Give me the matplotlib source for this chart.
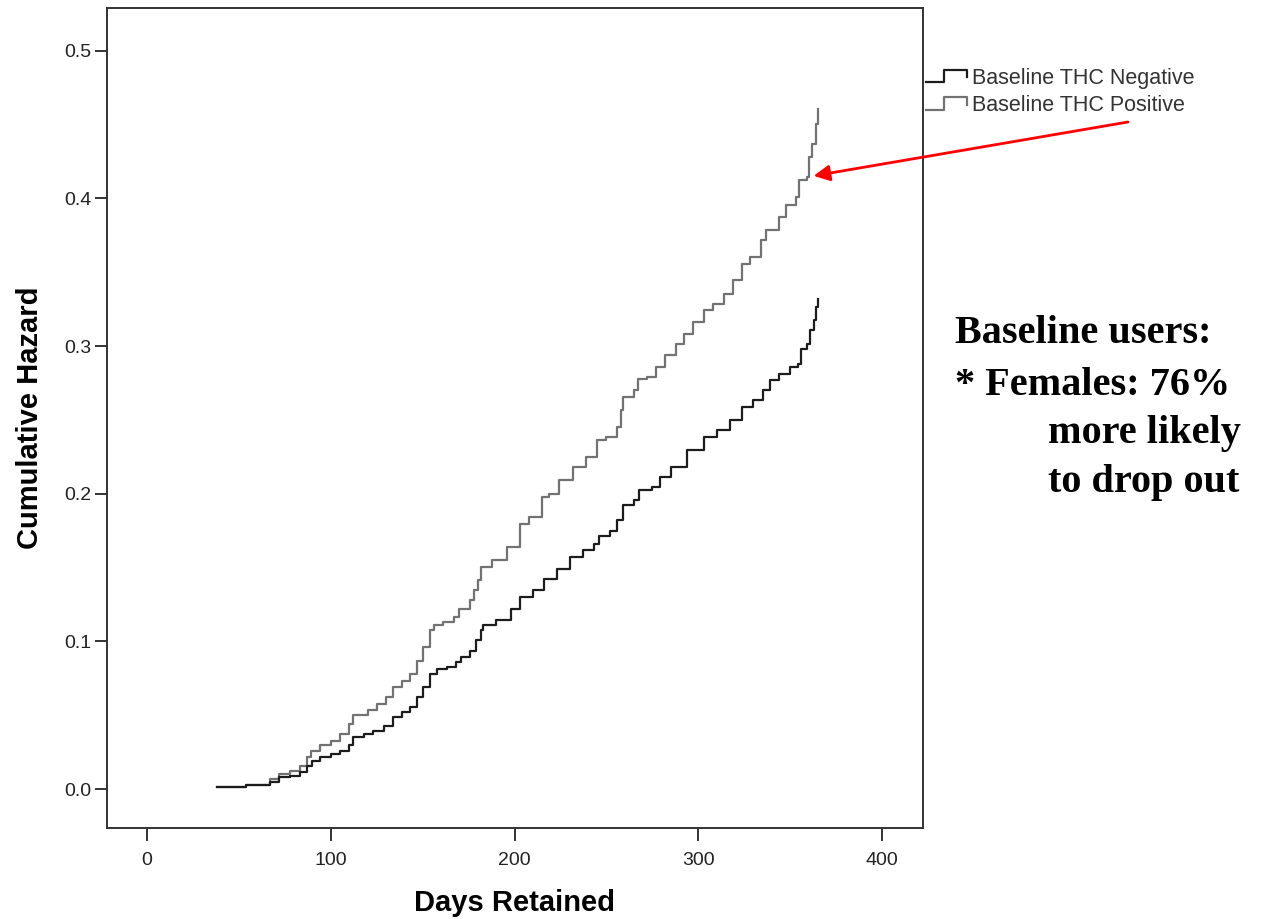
import matplotlib.pyplot as plt
from matplotlib.legend_handler import HandlerBase
from matplotlib.lines import Line2D

# cumulative hazard (day, hazard)
neg_days = [38, 54, 67, 72, 78, 83, 87, 90, 94, 100, 105, 110, 112, 118, 123, 129, 134,
            139, 143, 147, 150, 154, 158, 163, 168, 171, 176, 179, 182, 183, 190, 198,
            203, 210, 216, 223, 230, 237, 243, 246, 252, 256, 259, 265, 268, 275, 279,
            285, 294, 303, 310, 317, 324, 330, 335, 339, 344, 350, 354, 356, 359, 361,
            363, 364, 365]
neg_hazard = [0.0015, 0.003, 0.0046, 0.008, 0.0091, 0.0114, 0.0159, 0.0193, 0.0215,
              0.0238, 0.026, 0.0295, 0.0351, 0.0374, 0.0396, 0.043, 0.0486, 0.052,
              0.0554, 0.0622, 0.069, 0.078, 0.0814, 0.0825, 0.0859, 0.0893, 0.0938,
              0.101, 0.1074, 0.1108, 0.1142, 0.122, 0.130, 0.1345, 0.1424, 0.1492,
              0.157, 0.1616, 0.1661, 0.1717, 0.1751, 0.1819, 0.1921, 0.1955, 0.2022,
              0.2045, 0.2112, 0.218, 0.2293, 0.2384, 0.2429, 0.2497, 0.2587, 0.2632,
              0.270, 0.2768, 0.2813, 0.2858, 0.288, 0.2982, 0.3016, 0.3106, 0.3174,
              0.3264, 0.3321]

pos_days = [38, 54, 67, 72, 78, 83, 87, 89, 94, 100, 105, 110, 112, 120, 125, 130, 134,
            139, 143, 147, 150, 154, 156, 161, 167, 170, 176, 178, 180, 182, 188, 196,
            203, 208, 215, 219, 224, 232, 239, 245, 250, 256, 258, 259, 265, 267, 272,
            277, 282, 288, 292, 297, 303, 308, 314, 319, 324, 328, 334, 337, 344, 348,
            353, 355, 359, 360, 362, 364, 365]
pos_hazard = [0.0015, 0.003, 0.0069, 0.0103, 0.0125, 0.0159, 0.0215, 0.026, 0.0295,
              0.0328, 0.0374, 0.0442, 0.0498, 0.0532, 0.0577, 0.0622, 0.069, 0.0735,
              0.078, 0.087, 0.096, 0.1074, 0.1108, 0.113, 0.1164, 0.122, 0.1277, 0.1345,
              0.1413, 0.1503, 0.1548, 0.1638, 0.1797, 0.1841, 0.1977, 0.200, 0.209,
              0.218, 0.2248, 0.2361, 0.2384, 0.2451, 0.2564, 0.2654, 0.270, 0.2779,
              0.279, 0.2858, 0.2937, 0.3016, 0.3084, 0.3163, 0.3242, 0.3287, 0.3355,
              0.3445, 0.3558, 0.3603, 0.3716, 0.3784, 0.3874, 0.3953, 0.401, 0.4123,
              0.4145, 0.428, 0.4371, 0.4507, 0.4608]

x_ticks = [0, 100, 200, 300, 400]
y_ticks = [0.0, 0.1, 0.2, 0.3, 0.4, 0.5]
labels = ["Baseline THC Negative", "Baseline THC Positive"]
note_lines = ["Baseline users:", "* Females: 76%", "more likely", "to drop out"]

W, H = 1268, 919


class StepHandler(HandlerBase):
    # little step icon like the SPSS legend
    def create_artists(self, legend, orig_handle, xdescent, ydescent,
                       width, height, fontsize, trans):
        x0, y0 = -xdescent, -ydescent
        xs = [x0, x0 + 0.45 * width, x0 + 0.45 * width, x0 + width, x0 + width]
        ys = [y0 + 0.1 * height, y0 + 0.1 * height, y0 + 0.95 * height,
              y0 + 0.95 * height, y0 + 0.45 * height]
        ln = Line2D(xs, ys, color=orig_handle.get_color(), lw=1.6, transform=trans)
        return [ln]


plt.rcParams['font.family'] = ['Liberation Sans', 'DejaVu Sans']

fig = plt.figure(figsize=(W / 100, H / 100), dpi=100)
ax = fig.add_axes([107 / W, 1 - 828 / H, (923 - 107) / W, (828 - 8) / H])

l_pos, = ax.plot(pos_days, pos_hazard, drawstyle="steps-post", color="#727272", lw=1.6)
l_neg, = ax.plot(neg_days, neg_hazard, drawstyle="steps-post", color="#1c1c1c", lw=1.6)

ax.set_xlim(-21.8, 422.3)
ax.set_ylim(-0.0264, 0.529)
ax.set_xticks(x_ticks)
ax.set_yticks(y_ticks)
ax.set_yticklabels([f"{v:.1f}" for v in y_ticks])
ax.tick_params(direction="out", length=9, width=1.4, labelsize=14, colors="#333333",
               labelcolor="#222222", top=False, right=False)
ax.tick_params(axis="y", pad=2)
ax.tick_params(axis="x", pad=8)
for sp in ax.spines.values():
    sp.set_color("#333333")
    sp.set_linewidth(1.4)

ax.set_xlabel("Days Retained", fontsize=21, fontweight="bold", labelpad=15)
ax.set_ylabel("Cumulative Hazard", fontsize=21, fontweight="bold", labelpad=15)

fig.legend([l_neg, l_pos], labels, loc="upper left",
           bbox_to_anchor=(926 / W, 1 - 68 / H), frameon=False, fontsize=15.5,
           handler_map={Line2D: StepHandler()}, handlelength=1.9, handletextpad=0.25,
           labelspacing=0.3, borderpad=0, borderaxespad=0, labelcolor="#333333")

# red arrow pointing at the THC positive curve
k = pos_days.index(359)
ax.annotate("", xy=(pos_days[k], pos_hazard[k]), xycoords="data",
            xytext=(1128 / W, 1 - 122 / H), textcoords="figure fraction",
            arrowprops=dict(arrowstyle="-|>", color="red", lw=2, mutation_scale=24,
                            shrinkA=0, shrinkB=5),
            annotation_clip=False)

note_x = [955, 955, 1048, 1048]
note_y = [343, 395, 443, 492]
for txt, xp, yp in zip(note_lines, note_x, note_y):
    fig.text(xp / W, 1 - yp / H, txt, fontsize=29, fontweight="bold",
             family=["Liberation Serif", "DejaVu Serif"], va="baseline", ha="left")

plt.savefig("out.png", dpi=100)
